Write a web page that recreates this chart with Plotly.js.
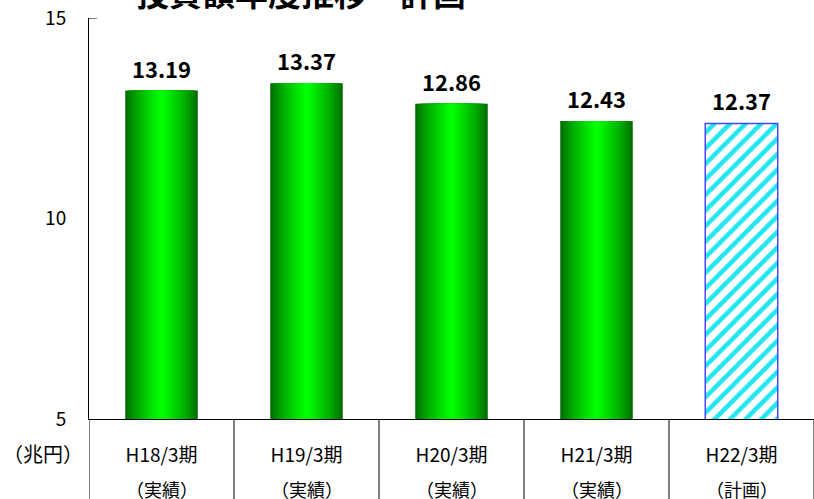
<!DOCTYPE html>
<html>
<head>
<meta charset="utf-8">
<script src="https://cdn.plot.ly/plotly-3.0.1.min.js"></script>
<style>
  html, body { margin: 0; padding: 0; background: #fff; }
  #chart { width: 814px; height: 499px; }
</style>
</head>
<body>
<div id="chart"></div>
<script>
// Fiscal periods and kind of figure (results / plan)
const periods = ["H18/3期", "H19/3期", "H20/3期", "H21/3期", "H22/3期"];
const kinds = ["（実績）", "（実績）", "（実績）", "（実績）", "（計画）"];
// Amounts in trillion yen
const values = [13.19, 13.37, 12.86, 12.43, 12.37];
const isPlan = [false, false, false, false, true];
const yTicks = [5, 10, 15];

const FONT = "'Noto Sans CJK JP', 'Noto Sans', sans-serif";

const actX = [], actY = [], planX = [], planY = [];
values.forEach((v, i) => {
  if (isPlan[i]) { planX.push(periods[i]); planY.push(v); }
  else { actX.push(periods[i]); actY.push(v); }
});

// Results bars: layered bars of shrinking width give a dark-edge / bright-centre shading
const traces = [];
const LAYERS = 14;
for (let k = 0; k < LAYERS; k++) {
  const t = k / (LAYERS - 1);
  const g = Math.round(110 + (255 - 110) * Math.pow(t, 0.8));
  traces.push({
    type: "bar",
    x: actX,
    y: actY,
    base: 0,
    width: 0.5 * (1 - k / LAYERS),
    marker: { color: "rgb(0," + g + ",0)", line: { width: 0 } },
    hoverinfo: k === LAYERS - 1 ? "x+y" : "skip",
    showlegend: false
  });
}

// Plan bar: cyan diagonal hatch with blue outline
traces.push({
  type: "bar",
  x: planX,
  y: planY,
  base: 0,
  width: 0.5,
  marker: {
    color: "#ffffff",
    pattern: { shape: "/", fgcolor: "#22e6f0", bgcolor: "#ffffff", size: 11, solidity: 0.42 },
    line: { color: "#4646ff", width: 1.5 }
  },
  showlegend: false
});

// Value labels above each bar
const annotations = values.map((v, i) => ({
  x: periods[i], y: v, xref: "x", yref: "y",
  text: v.toFixed(2), showarrow: false,
  yanchor: "bottom", yshift: 5,
  font: { family: FONT, size: 22, color: "#000", weight: "bold" }
}));

// Second row of category labels
kinds.forEach((k, i) => {
  annotations.push({
    x: periods[i], y: -0.175, xref: "x", yref: "paper",
    xanchor: "center", yanchor: "middle",
    text: k, showarrow: false,
    font: { family: FONT, size: 18, color: "#000" }
  });
});

// Unit label under the value axis
annotations.push({
  x: -0.006, y: -0.085, xref: "paper", yref: "paper",
  xanchor: "right", yanchor: "middle",
  text: "（兆円）", showarrow: false,
  font: { family: FONT, size: 20, color: "#000" }
});

// Chart title
annotations.push({
  x: 0.292, y: 1.066, xref: "paper", yref: "paper",
  xanchor: "center", yanchor: "middle",
  text: "投資額年度推移・計画", showarrow: false,
  font: { family: FONT, size: 33, color: "#000", weight: "bold" }
});

// Category separators extending below the axis
const shapes = [];
for (let i = 0; i <= periods.length; i++) {
  shapes.push({
    type: "line", xref: "x", yref: "paper",
    x0: i - 0.5, x1: i - 0.5, y0: 0, y1: -0.2,
    line: { color: "#000", width: 1 }
  });
}
// Short cap at the top of the value axis
shapes.push({
  type: "line", xref: "paper", yref: "y",
  x0: 0, x1: 0.011, y0: 15, y1: 15,
  line: { color: "#000", width: 1 }
});

const layout = {
  width: 814,
  height: 499,
  margin: { l: 89, r: 0, t: 18, b: 80 },
  paper_bgcolor: "#fff",
  plot_bgcolor: "#fff",
  barmode: "overlay",
  bargap: 0.5,
  showlegend: false,
  font: { family: FONT, color: "#000" },
  xaxis: {
    type: "category",
    categoryorder: "array",
    categoryarray: periods,
    range: [-0.5, periods.length - 0.5],
    showline: true, linecolor: "#000", linewidth: 1,
    ticks: "", showgrid: false, zeroline: false,
    ticklabelstandoff: 19,
    tickfont: { family: FONT, size: 19, color: "#000" }
  },
  yaxis: {
    range: [5, 15],
    tickvals: yTicks,
    showline: true, linecolor: "#000", linewidth: 1,
    ticks: "", showgrid: false, zeroline: false,
    ticklabelstandoff: 18,
    tickfont: { family: FONT, size: 19, color: "#000" }
  },
  annotations: annotations,
  shapes: shapes
};

Plotly.newPlot("chart", traces, layout, { displayModeBar: false, staticPlot: true });
</script>
</body>
</html>
